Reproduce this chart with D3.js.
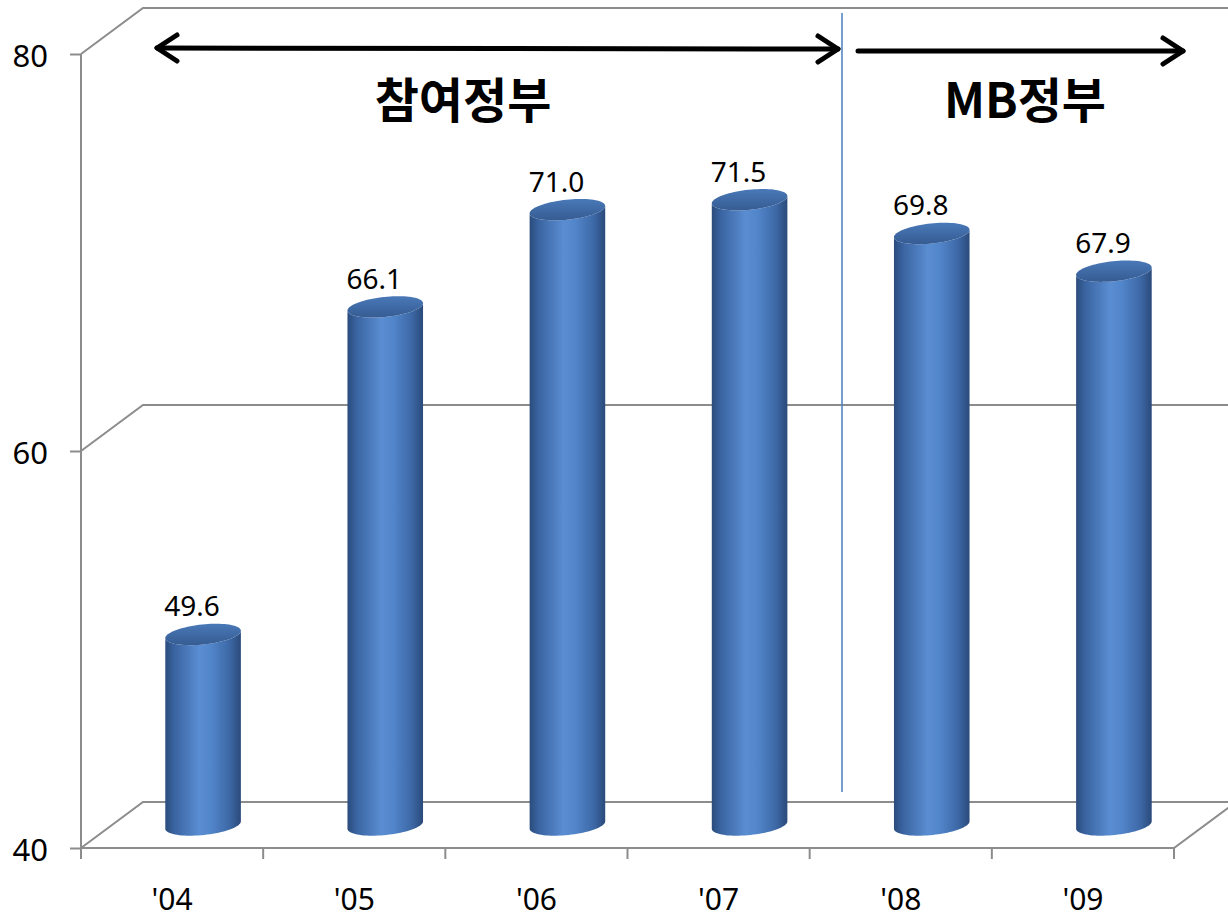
<!DOCTYPE html>
<html><head><meta charset="utf-8">
<script src="https://cdn.jsdelivr.net/npm/d3@7"></script>
<style>html,body{margin:0;padding:0;background:#fff;}svg{display:block;}</style>
</head><body>
<svg id="c" width="1228" height="920"></svg>
<script>
const categories = ["'04","'05","'06","'07","'08","'09"];
const values = [49.6, 66.1, 71.0, 71.5, 69.8, 67.9];
const yTicks = [40, 60, 80];
const periods = ["참여정부", "MB정부"];

const svg = d3.select("#c");
const W = 1228, H = 920;
const font = "'Noto Sans','Noto Sans CJK KR',sans-serif";
const x = d3.scaleBand().domain(categories).range([81, 1174]).padding(0);
const y = d3.scaleLinear().domain([40, 80]).range([848, 54]);
const dx = 62, dy = -46; // depth offset
const grid = "#8c8c8c";

const defs = svg.append("defs");
const g1 = defs.append("linearGradient").attr("id","body").attr("x1","0").attr("x2","1").attr("y1","0").attr("y2","0");
[[0,"#2b4c7c"],[0.12,"#3a64a1"],[0.45,"#5a8dd2"],[0.6,"#5286cb"],[0.85,"#3d68a6"],[1,"#2a4a7a"]].forEach(s=>g1.append("stop").attr("offset",s[0]).attr("stop-color",s[1]));
const g2 = defs.append("linearGradient").attr("id","top").attr("x1","0").attr("x2","0").attr("y1","0").attr("y2","1");
[[0,"#4a79b8"],[0.5,"#3f6aa5"],[1,"#365c92"]].forEach(s=>g2.append("stop").attr("offset",s[0]).attr("stop-color",s[1]));

const gl = svg.append("g").attr("stroke", grid).attr("stroke-width", 2).attr("fill","none");
yTicks.forEach(t => {
  gl.append("path").attr("d", `M${x.range()[0]},${y(t)} L${x.range()[0]+dx},${y(t)+dy} L${W},${y(t)+dy}`);
});
gl.append("path").attr("d", `M${x.range()[0]},${y(40)} L${x.range()[1]},${y(40)} L${x.range()[1]+dx},${y(40)+dy}`);
gl.append("line").attr("x1",81).attr("x2",81).attr("y1",y(80)).attr("y2",y(40));
const edges = categories.map(c => x(c)).concat([x.range()[1]]);
edges.forEach(e => gl.append("line").attr("x1",e).attr("x2",e).attr("y1",y(40)).attr("y2",y(40)+11));

const ya = svg.append("g").attr("transform","translate(81,0)")
  .call(d3.axisLeft(y).tickValues(yTicks).tickSize(11).tickSizeOuter(0).tickPadding(22));
ya.select(".domain").remove();
ya.selectAll(".tick line").attr("stroke", grid).attr("stroke-width", 2);
ya.selectAll(".tick text").attr("font-family", font).attr("font-size", 31).attr("fill","#000").attr("dy","0.4em");

const xa = svg.append("g").attr("transform",`translate(0,${y(40)})`)
  .call(d3.axisBottom(x).tickSize(0).tickPadding(41));
xa.select(".domain").remove();
xa.selectAll(".tick text").attr("font-family", font).attr("font-size", 30).attr("fill","#000");

// cylinders as proper outlines
const bw = 76, ry = 10, rot = -6 * Math.PI / 180;
function ep(cx, cy, t) {
  const ex = (bw/2) * Math.cos(t), ey = ry * Math.sin(t);
  return [cx + ex*Math.cos(rot) - ey*Math.sin(rot), cy + ex*Math.sin(rot) + ey*Math.cos(rot)];
}
const cyl = svg.append("g");
const N = 40;
categories.forEach((c, i) => {
  const cx = x(c) + x.bandwidth()/2 + dx/2;
  const ty = y(values[i]) + dy/2;
  const by = y(40) + dy/2;
  const pts = [];
  // top ellipse lower half? start left top point, go down left side
  for (let k = 0; k <= N; k++) { const t = Math.PI - Math.PI*k/N; pts.push(ep(cx, by, t)); } // bottom lower half, left->right
  for (let k = 0; k <= N; k++) { const t = 0 + Math.PI*k/N; pts.push(ep(cx, ty, t)); } // top ellipse lower half right->left
  const bodyPts = [ep(cx, ty, Math.PI)].concat(pts.slice(0, N+1)).concat([ep(cx, ty, 0)]);
  // body: left top -> bottom lower arc -> right top -> top lower arc back
  const body = [];
  for (let k = 0; k <= N; k++) body.push(ep(cx, by, Math.PI - Math.PI*k/N));
  for (let k = 0; k <= N; k++) body.push(ep(cx, ty, Math.PI*k/N));
  cyl.append("path").attr("d", d3.line()(body) + "Z").attr("fill","url(#body)");
  const topPts = [];
  for (let k = 0; k <= 2*N; k++) topPts.push(ep(cx, ty, 2*Math.PI*k/(2*N)));
  cyl.append("path").attr("d", d3.line()(topPts) + "Z").attr("fill","url(#top)");
  svg.append("text").attr("x",cx-11).attr("y",ty-ry-8).attr("text-anchor","middle")
    .attr("font-family",font).attr("font-size",28).attr("fill","#000").text(values[i].toFixed(1));
});

svg.append("line").attr("x1",842).attr("x2",842).attr("y1",13).attr("y2",792)
  .attr("stroke","#4a7ebb").attr("stroke-width",1.5);

const ar = svg.append("g").attr("stroke","#000").attr("stroke-width",5).attr("fill","none")
  .attr("stroke-linecap","round").attr("stroke-linejoin","round");
ar.append("line").attr("x1",157).attr("x2",838).attr("y1",48).attr("y2",49);
ar.append("path").attr("d","M177,35 L157,48 L177,61");
ar.append("path").attr("d","M818,36 L838,49 L818,62");
ar.append("line").attr("x1",858).attr("x2",1183).attr("y1",51).attr("y2",51);
ar.append("path").attr("d","M1163,38 L1183,51 L1163,64");

svg.append("text").attr("x",463).attr("y",118).attr("text-anchor","middle")
  .attr("font-family","'Noto Sans CJK KR',sans-serif").attr("font-weight","bold").attr("font-size",48).text(periods[0]);
svg.append("text").attr("x",1025).attr("y",118).attr("text-anchor","middle")
  .attr("font-family","'Noto Sans CJK KR',sans-serif").attr("font-weight","bold").attr("font-size",48).text(periods[1]);
</script>
</body></html>
